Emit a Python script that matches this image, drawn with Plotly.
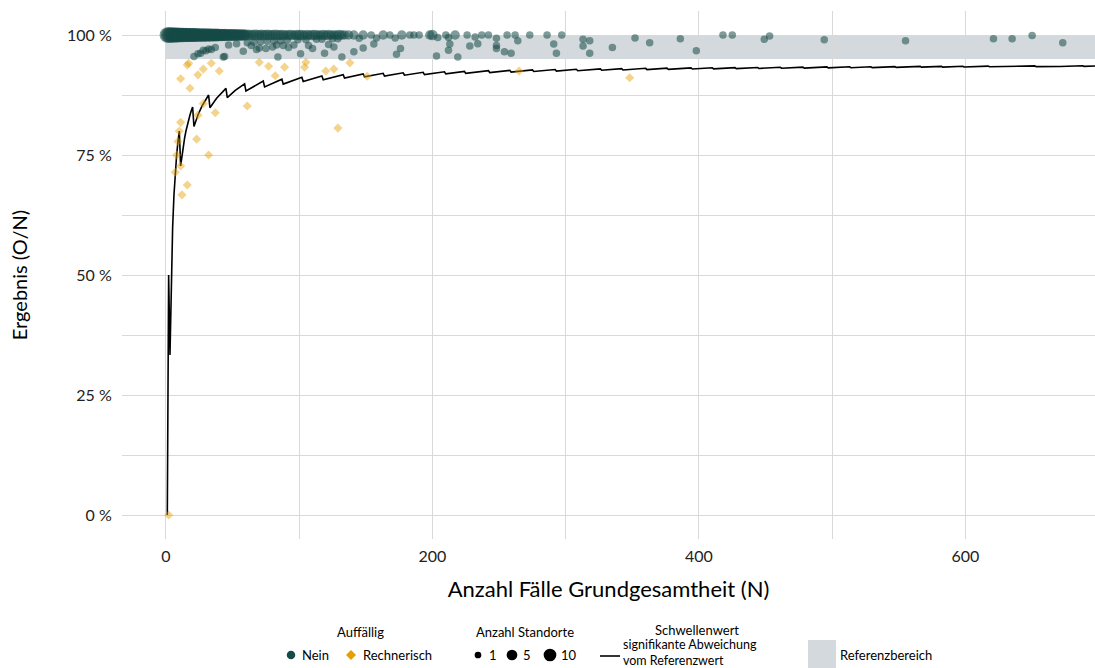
import plotly.graph_objects as go

# ---------------- data ----------------
# Threshold (Schwellenwert) vertices: N, value
thr_n = [1, 2, 3, 4, 5, 6, 7, 8, 9, 10, 11, 12, 13, 14, 15, 16, 17, 18, 19, 20,
         21, 24, 27, 32, 33, 38, 45, 46, 52, 59, 60, 73, 74, 87, 88, 102, 103, 117, 118,
         133, 134, 148, 149, 163, 164, 178, 179, 193, 194, 209, 210, 224, 225, 242, 243,
         258, 259, 275, 276, 292, 293, 308, 309, 326, 327, 342, 343, 360, 361, 376, 377,
         394, 395, 410, 411, 427, 428, 444, 445, 461, 462, 478, 479, 496, 497, 513, 514,
         529, 530, 547, 548, 566, 567, 582, 583, 598, 599, 617, 618, 633, 634, 652, 653,
         670, 671, 688, 689, 700]
thr_v = [0.0, 0.5, 0.3333, 0.5, 0.6, 0.6667, 0.7143, 0.75, 0.7778, 0.8, 0.7273, 0.75,
         0.7692, 0.7857, 0.8, 0.8125, 0.8235, 0.8333, 0.8421, 0.85,
         0.8095, 0.8333, 0.8519, 0.875, 0.8485, 0.8684, 0.8889, 0.8696, 0.8846, 0.8983,
         0.8833, 0.9041, 0.8919, 0.908, 0.8977, 0.9118, 0.9029, 0.9145, 0.9068,
         0.9173, 0.9104, 0.9189, 0.9128, 0.9202, 0.9146, 0.9213, 0.9162, 0.9223, 0.9175,
         0.9234, 0.919, 0.9241, 0.92, 0.9256, 0.9218, 0.9264, 0.9228, 0.9273, 0.9239,
         0.9281, 0.9249, 0.9286, 0.9256, 0.9294, 0.9266, 0.9298, 0.9271, 0.9306, 0.928,
         0.9309, 0.9284, 0.9315, 0.9291, 0.9317, 0.9294, 0.9321, 0.9299, 0.9324, 0.9303,
         0.9328, 0.9307, 0.9331, 0.9311, 0.9335, 0.9316, 0.9337, 0.9319, 0.9338, 0.9321,
         0.9342, 0.9325, 0.9346, 0.933, 0.9347, 0.9331, 0.9348, 0.9332, 0.9352, 0.9337,
         0.9352, 0.9338, 0.9356, 0.9341, 0.9358, 0.9344, 0.936, 0.9347, 0.9357]

# Sites with result 100 % (N, number of sites)
full_n = [1, 2, 3, 4, 5, 6, 7, 8, 9, 10, 11, 12, 13, 14, 15, 16, 17, 18, 19, 20,
          21, 22, 23, 24, 25, 26, 27, 28, 29, 30, 31, 32, 33, 34, 35, 36, 37, 38, 39, 40,
          41, 42, 43, 44, 45, 46, 47, 48, 49, 50, 51, 52, 53, 54, 55, 56, 57, 58, 59, 60,
          62, 64, 66, 68, 70, 72, 74, 76, 78, 80, 82, 84, 86, 88, 90, 92, 94, 96, 98, 100,
          102, 104, 106, 108, 110, 112, 114, 116, 118, 120, 122, 124, 126, 128, 130, 132, 134]
full_c = [17, 16, 17, 16, 15, 16, 15, 14, 15, 14,
          13, 14, 13, 12, 13, 12, 12, 11, 12, 11,
          10, 11, 10, 10, 9, 10, 9, 9, 10, 8,
          9, 8, 8, 9, 7, 8, 7, 8, 7, 7,
          6, 7, 6, 7, 6, 5, 6, 6, 5, 6,
          5, 5, 6, 4, 5, 5, 4, 5, 4, 4,
          4, 3, 4, 4, 3, 4, 3, 4, 3, 3, 4, 3, 3, 3, 2, 3, 3, 2, 3, 3,
          3, 2, 3, 2, 3, 3, 2, 2, 3, 2, 3, 2, 2, 2, 3, 2, 2]

# Other unremarkable sites (Auffällig: Nein)
nein_n = [137, 141, 145, 148, 154, 158, 163, 168, 172, 177, 183, 186, 190, 198, 200, 204,
          210, 212, 217, 226, 232, 237, 242, 248, 256, 262, 264, 273, 286, 291, 297, 313,
          318, 352, 363, 386, 418, 425, 449, 453, 494, 555, 621, 635, 650, 673,
          21, 24, 26, 28, 30, 32, 34, 37, 43, 44, 47, 53, 58, 64, 68, 70, 75, 80, 83, 84,
          88, 92, 96, 101, 107, 110, 119, 122, 126, 132, 141, 148, 156, 173, 176, 203, 212,
          213, 219, 228, 234, 248, 248, 254, 259, 293, 313, 318, 335, 398,
          61, 66, 71, 76, 81, 86, 91, 99, 105, 113, 117, 125, 129]
nein_v = [1.0, 1.0, 0.993, 1.0, 1.0, 0.994, 1.0, 1.0, 0.994, 1.0, 1.0, 1.0, 1.0, 1.0, 1.0, 0.995,
          1.0, 0.995, 1.0, 1.0, 0.996, 1.0, 1.0, 0.993, 1.0, 1.0, 0.988, 1.0, 1.0, 0.981, 1.0, 0.991,
          0.988, 0.994, 0.984, 0.992, 1.0, 1.0, 0.991, 0.998, 0.99, 0.988, 0.992, 0.992, 0.999, 0.984,
          0.955, 0.961, 0.962, 0.968, 0.967, 0.971, 0.97, 0.974, 0.954, 0.955, 0.979, 0.982, 0.966,
          0.978, 0.97, 0.973, 0.972, 0.975, 0.979, 0.954, 0.978, 0.974, 0.979, 0.961, 0.978, 0.972,
          0.962, 0.98, 0.975, 0.954, 0.965, 0.973, 0.981, 0.96, 0.972, 0.956, 0.968, 0.981, 0.954,
          0.977, 0.982, 0.978, 0.972, 0.965, 0.962, 0.962, 0.977, 0.962, 0.974, 0.967,
          0.984, 0.985, 0.986, 0.987, 0.988, 0.988, 0.989, 0.99, 0.99, 0.991, 0.991, 0.992, 0.992]
nein_c = [2, 2, 1, 2, 1, 1, 2, 1, 1, 2, 1, 1, 1, 2, 3, 1,
          1, 1, 2, 1, 1, 1, 1, 1, 1, 1, 1, 1, 1, 1, 1, 1,
          1, 1, 1, 1, 1, 1, 1, 1, 1, 1, 1, 1, 1, 1,
          1, 1, 1, 1, 1, 1, 1, 1, 1, 1, 1, 1, 1, 1, 1, 1, 1, 1, 1, 1,
          1, 1, 1, 1, 1, 1, 1, 1, 1, 1, 1, 1, 1, 1, 1, 1, 1,
          1, 1, 1, 1, 1, 1, 1, 1, 1, 1, 1, 1, 1,
          1, 1, 1, 1, 1, 1, 1, 1, 1, 1, 1, 1, 1]

# Sites flagged "Rechnerisch"
rech_n = [2, 7, 8, 9, 10, 11, 11, 11, 12, 16, 16, 17, 18, 23, 24, 24, 28, 28, 32, 34, 37, 40,
          61, 70, 77, 82, 89, 104, 105, 120, 126, 129, 138, 151, 265, 348]
rech_v = [0.0, 0.714, 0.75, 0.778, 0.8, 0.727, 0.818, 0.909, 0.667, 0.6875, 0.9375, 0.941,
          0.889, 0.783, 0.833, 0.917, 0.857, 0.929, 0.75, 0.941, 0.838, 0.925,
          0.852, 0.943, 0.935, 0.915, 0.933, 0.933, 0.943, 0.925, 0.929, 0.806, 0.942, 0.914,
          0.925, 0.911]

ref_low, ref_high = 0.95, 1.0
x_ticks = [0, 200, 400, 600]
y_ticks = [0, 0.25, 0.5, 0.75, 1.0]
y_labels = ["0 %", "25 %", "50 %", "75 %", "100 %"]
legend_sizes = [1, 5, 10]

# ---------------- style ----------------
GREEN = "#164b47"
ORANGE = "#E69F00"
BAND = "#d4d9dd"
GRID = "#d9d9d9"
FONT = "Lato, Open Sans, sans-serif"

W, H = 1095, 668
ML, MR, MT, MB = 122, 0, 11, 129
PW, PH = W - ML - MR, H - MT - MB


def dia(c):
    return 7.5 + 2.0 * (c - 1) ** 0.5


def px(xp):
    return (xp - ML) / PW


def py(yp):
    return (H - MB - yp) / PH


fig = go.Figure()

# reference band
fig.add_shape(type="rect", xref="x", yref="y", x0=0, x1=720, y0=ref_low, y1=ref_high,
              fillcolor=BAND, line_width=0, layer="below")

# threshold line
fig.add_trace(go.Scatter(x=thr_n, y=thr_v, mode="lines", name="Schwellenwert",
                         line=dict(color="black", width=1.6),
                         showlegend=False, hoverinfo="skip"))

# Nein points
fig.add_trace(go.Scatter(x=full_n + nein_n, y=[1.0] * len(full_n) + nein_v, mode="markers",
                         name="Nein",
                         marker=dict(color=GREEN, opacity=0.55, line_width=0,
                                     size=[dia(c) for c in full_c + nein_c]),
                         showlegend=False))

# Rechnerisch points
fig.add_trace(go.Scatter(x=rech_n, y=rech_v, mode="markers", name="Rechnerisch",
                         marker=dict(color=ORANGE, opacity=0.45, symbol="diamond", size=7,
                                     line_width=0),
                         showlegend=False))

# ---------------- legend (drawn manually below the plot) ----------------
LF = dict(family=FONT, size=13, color="black")


def text(x, y, t, anchor="left", size=13):
    fig.add_annotation(xref="paper", yref="paper", x=px(x), y=py(y), text=t, showarrow=False,
                       xanchor=anchor, yanchor="middle", align="left",
                       font=dict(family=FONT, size=size, color="black"), borderpad=0)


def circle(cx, cy, d, color):
    fig.add_shape(type="circle", xref="paper", yref="paper",
                  x0=px(cx - d / 2), x1=px(cx + d / 2), y0=py(cy + d / 2), y1=py(cy - d / 2),
                  fillcolor=color, line_width=0)


LY = 655
text(360, 632, "Auffällig", "center")
circle(291, LY, 8.5, GREEN)
text(301, LY, "Nein")
fig.add_shape(type="path", xref="paper", yref="paper",
              path=f"M {px(351)},{py(LY - 5)} L {px(356)},{py(LY)} L {px(351)},{py(LY + 5)} "
                   f"L {px(346)},{py(LY)} Z",
              fillcolor=ORANGE, line_width=0)
text(362, LY, "Rechnerisch")

text(525, 632, "Anzahl Standorte", "center")
for cx, s, tx in zip([478, 512, 550], legend_sizes, [488, 522, 560]):
    circle(cx, LY, dia(s) - 0.8, "black")
    text(tx, LY, str(s))

fig.add_shape(type="line", xref="paper", yref="paper", x0=px(600), x1=px(620),
              y0=py(656), y1=py(656), line=dict(color="black", width=1.6))
text(697, 630, "Schwellenwert", "center")
text(622, 652.5, "signifikante Abweichung<br>vom Referenzwert", size=12.5)

fig.add_shape(type="rect", xref="paper", yref="paper",
              x0=px(808), x1=px(836), y0=py(668), y1=py(640),
              fillcolor=BAND, line_width=0)
text(839, LY, "Referenzbereich")

fig.update_layout(
    width=W, height=H,
    margin=dict(l=ML, r=MR, t=MT, b=MB, autoexpand=False),
    paper_bgcolor="white", plot_bgcolor="white",
    font=dict(family=FONT, color="black"),
    showlegend=False,
    xaxis=dict(range=[-33, 697.2], tickvals=x_ticks, showgrid=True, gridcolor=GRID,
               gridwidth=1.2, zeroline=False, showline=False, automargin=False,
               minor=dict(tickvals=[100, 300, 500], showgrid=True, gridcolor=GRID, gridwidth=1.2),
               tickfont=dict(size=16, color="#222222"), ticks="outside", ticklen=3,
               tickcolor="rgba(0,0,0,0)",
               title=dict(text="Anzahl Fälle Grundgesamtheit (N)", font=dict(size=22),
                          standoff=17)),
    yaxis=dict(range=[-0.05, 1.05], tickvals=y_ticks, ticktext=y_labels, showgrid=True,
               gridcolor=GRID, gridwidth=1.2, zeroline=False, showline=False, automargin=False,
               minor=dict(tickvals=[0.125, 0.375, 0.625, 0.875], showgrid=True,
                          gridcolor=GRID, gridwidth=1.2),
               tickfont=dict(size=16, color="#222222"), ticks="outside", ticklen=6,
               tickcolor="rgba(0,0,0,0)",
               title=dict(text="Ergebnis (O/N)", font=dict(size=20), standoff=34)),
)

fig.write_html("out.html", config={"displayModeBar": False},
               post_script="document.body.style.margin='0';document.body.style.padding='0';")
